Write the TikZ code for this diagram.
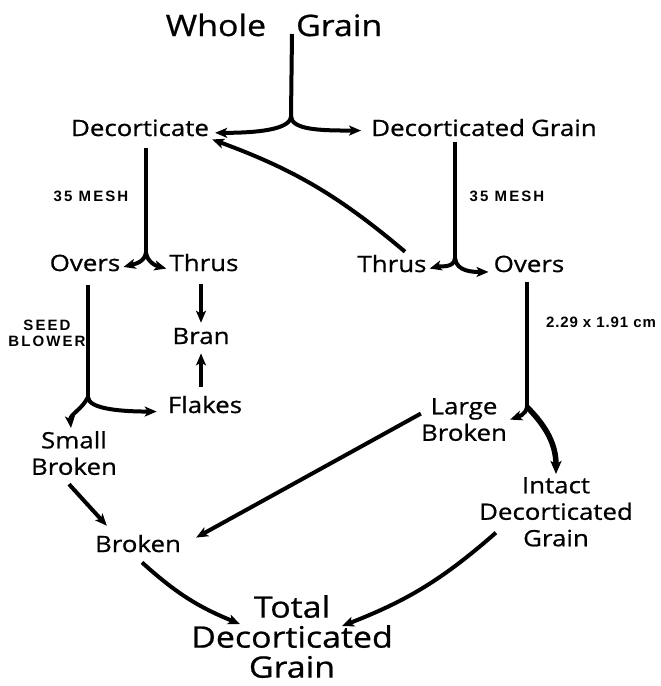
\documentclass[tikz,border=0pt]{standalone}
\usepackage{fontspec}
\setmainfont{Open Sans}[FakeStretch=1.15,FakeBold=0.8]
\newfontfamily\tagfont{Liberation Sans}[LetterSpace=14]
\newfontfamily\numfont{Liberation Sans}[LetterSpace=6]
\usepackage{tikz}
\usetikzlibrary{arrows.meta}
\tikzset{
  txt/.style    ={font=\fontsize{22.5}{26.5}\selectfont,inner sep=3pt,align=center},
  head/.style   ={font=\fontsize{29.5}{30}\selectfont,inner sep=1pt,align=center},
  sieve/.style  ={font=\tagfont\bfseries\fontsize{15}{16}\selectfont,inner sep=0pt,align=center},
  gauge/.style  ={font=\numfont\bfseries\fontsize{15}{16}\selectfont,inner sep=0pt},
  stem/.style   ={line width=4pt},
  flow/.style   ={line width=4pt,-{Stealth[length=12pt,width=10pt,inset=3pt]}},
  bigflow/.style={line width=5.5pt,-{Stealth[length=13pt,width=11pt,inset=3pt]}},
}

\begin{document}
\begin{tikzpicture}[x=1pt,y=1pt]
  \useasboundingbox (0,0) rectangle (661,-686);
  % texts
  \node[head,anchor=base] (wg)  at (274,-36)  {Whole\hspace{30pt}Grain};
  \node[txt,anchor=base]  (dec) at (140,-136) {Decorticate};
  \node[txt,anchor=base]  (dg)  at (484,-136) {Decorticated\hspace{6pt}Grain};
  \node[txt,anchor=base]  (ovL) at (85,-271)  {Overs};
  \node[txt,anchor=base]  (thL) at (204,-271) {Thrus};
  \node[txt,anchor=base]  (thR) at (392,-272) {Thrus};
  \node[txt,anchor=base]  (ovR) at (529,-272) {Overs};
  \node[txt,anchor=base]  (bran) at (201,-344) {Bran};
  \node[txt,anchor=base]  (flk) at (205,-413) {Flakes};
  \node[txt,anchor=north] (sb)  at (74,-428)  {Small\\Broken};
  \node[txt,anchor=north] (lb)  at (464,-395) {Large\\Broken};
  \node[txt,anchor=north] (idg) at (556,-474) {Intact\\Decorticated\\Grain};
  \node[txt,anchor=base]  (br)  at (138,-552) {Broken};
  \node[head,anchor=north] (tdg) at (292,-594) {Total\\Decorticated\\Grain};
  % screen labels
  \node[sieve,anchor=base]  (meshL) at (91,-201)  {35 MESH};
  \node[sieve,anchor=base]  (meshR) at (507,-201) {35 MESH};
  \node[sieve,anchor=north] (blow)  at (47,-320)  {SEED\\BLOWER};
  \node[gauge,anchor=base]  (size)  at (601,-327) {2.29 x 1.91 cm};
  % stems and forks
  \coordinate (s1) at (292,-34);  \coordinate (j1) at (291,-116);
  \coordinate (s2) at (146,-148); \coordinate (j2) at (146,-252);
  \coordinate (s3) at (455,-142); \coordinate (j3) at (455,-258);
  \coordinate (s4) at (88,-285);  \coordinate (j4) at (88,-397);
  \coordinate (s5) at (527,-282); \coordinate (j5) at (527,-407);
  \foreach \i in {1,...,5}{
     \draw[stem] (s\i) -- (j\i);
  }
  \draw[flow] (j1) .. controls +(0,-14) and +(40,0) .. ([shift={(3pt,-5pt)}]dec.east);
  \draw[flow] (j1) .. controls +(0,-14) and +(-40,0) .. ([shift={(-7pt,-3pt)}]dg.west);
  \draw[flow] ([xshift=13pt]thR.north) to[bend right=10] (dec.south east);
  \draw[flow] (j2) to[out=-95,in=15] ([yshift=-4pt]ovL.east);
  \draw[flow] (j2) to[out=-85,in=165] ([yshift=-6pt]thL.west);
  \draw[flow] (j3) to[out=-95,in=15] ([yshift=-5pt]thR.east);
  \draw[flow] (j3) to[out=-85,in=180] ([shift={(-2pt,-8pt)}]ovR.west);
  \draw[flow] ([yshift=-10pt]thL.south -| bran.north) -- ([yshift=2pt]bran.north);
  \draw[flow] ([yshift=6pt]flk.north -| bran.south) -- ([yshift=-6pt]bran.south);
  \draw[flow] (j4) to[out=-115,in=95] ([xshift=-3pt]sb.north);
  \draw[flow] (j4) .. controls +(0,-12) and +(-35,0) .. ([shift={(-8pt,-7pt)}]flk.west);
  \draw[flow] (j5) to[out=-100,in=20] (lb.east);
  \draw[bigflow] (j5) to[out=-45,in=90] (idg.north);
  % into the totals
  \draw[flow] ([shift={(-5pt,-6pt)}]sb.south) -- ([shift={(15pt,6pt)}]br.north west);
  \draw[flow] ([shift={(3pt,6pt)}]lb.west) -- ([shift={(12pt,6pt)}]br.east);
  \draw[flow] ([shift={(4pt,-7pt)}]br.south) to[bend right=10] ([shift={(-52pt,-30pt)}]tdg.north);
  \draw[flow] ([shift={(20pt,17pt)}]idg.south west) to[bend left=10] ([shift={(50pt,-32pt)}]tdg.north);
\end{tikzpicture}
\end{document}
